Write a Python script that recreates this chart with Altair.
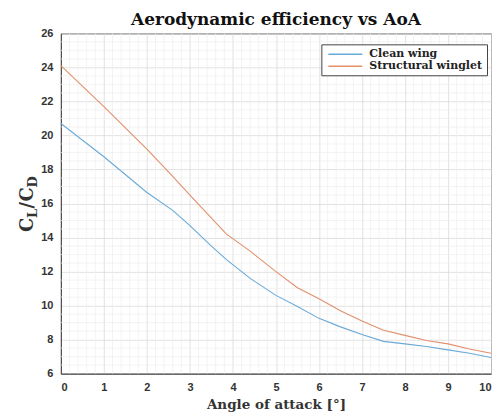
import altair as alt
import pandas as pd

# --- data ---
aoa_clean = [0, 1, 2, 2.6, 3, 3.5, 3.85, 4.4, 5, 5.5, 6, 6.5, 7, 7.5, 8, 8.5, 9, 9.5, 10]
ld_clean = [20.7, 18.75, 16.65, 15.6, 14.7, 13.5, 12.7, 11.6, 10.6, 9.95, 9.25, 8.75, 8.3, 7.9, 7.75, 7.6, 7.4, 7.2, 6.95]
aoa_wing = [0, 1, 2, 2.6, 3, 3.85, 4.4, 5, 5.5, 6, 6.5, 7, 7.5, 8, 8.5, 9, 9.5, 10]
ld_wing = [24.1, 21.7, 19.2, 17.6, 16.5, 14.2, 13.2, 12.0, 11.05, 10.4, 9.7, 9.1, 8.55, 8.25, 7.95, 7.75, 7.45, 7.2]
series = ["Clean wing", "Structural winglet"]
colors = ["#6aaad8", "#e3906b"]

x_ticks = list(range(0, 11))
y_ticks = list(range(6, 27, 2))
x_minor = [round(i * 0.2, 2) for i in range(0, 51) if i % 5 != 0]
y_minor = [6 + i * 0.5 for i in range(0, 41) if i % 4 != 0]

df = pd.DataFrame(
    {"aoa": aoa_clean + aoa_wing,
     "ld": ld_clean + ld_wing,
     "series": [series[0]] * len(aoa_clean) + [series[1]] * len(aoa_wing)}
)

xs = alt.Scale(domain=[0, 10], nice=False, zero=False)
ys = alt.Scale(domain=[6, 26], nice=False, zero=False)
x_axis = alt.Axis(values=x_ticks, title="Angle of attack [°]", format="d", labelOverlap=False)
y_axis = alt.Axis(values=y_ticks, title=None, format="d", labelOverlap=False)

minor_x = alt.Chart(pd.DataFrame({"v": x_minor})).mark_rule(
    color="#ededed", strokeWidth=0.7
).encode(x=alt.X("v:Q", scale=xs, axis=x_axis))
minor_y = alt.Chart(pd.DataFrame({"v": y_minor})).mark_rule(
    color="#ededed", strokeWidth=0.7
).encode(y=alt.Y("v:Q", scale=ys, axis=y_axis))

lines = alt.Chart(df).mark_line(strokeWidth=1.1).encode(
    x=alt.X("aoa:Q", scale=xs, axis=x_axis),
    y=alt.Y("ld:Q", scale=ys, axis=y_axis),
    color=alt.Color("series:N",
                    scale=alt.Scale(domain=series, range=colors),
                    legend=alt.Legend(
                        title=None, orient="none", legendX=261, legendY=11,
                        symbolType="M-3.4,0H3.4", symbolSize=100, symbolStrokeWidth=1.4,
                        symbolOffset=14,
                        labelFont="DejaVu Serif", labelFontSize=11, labelFontWeight="bold",
                        labelColor="#222", rowPadding=1, padding=4,
                        strokeColor="#444", fillColor="white", labelOffset=18)),
)

# y-axis title C_L/C_D built from pieces (rotated)
ypieces = pd.DataFrame({
    "t": ["C", "L", "/", "C", "D"],
    "y": [199, 185, 175.5, 168.5, 154.5],
    "x": [-28, -24, -28, -28, -24],
    "s": [18, 13, 18, 18, 13],
})
ytitle = []
for _, r in ypieces.iterrows():
    ytitle.append(
        alt.Chart(pd.DataFrame({"t": [r["t"]]})).mark_text(
            angle=270, align="left", baseline="alphabetic",
            font="DejaVu Serif", fontSize=float(r["s"]), fontWeight="bold", color="#333"
        ).encode(text="t:N", x=alt.value(float(r["x"])), y=alt.value(float(r["y"])))
    )

chart = alt.layer(minor_x, minor_y, lines, *ytitle).properties(
    width=431, height=341,
    title=alt.TitleParams("Aerodynamic efficiency vs AoA", font="DejaVu Serif",
                          fontSize=17, fontWeight="bold", color="#111", offset=2, dy=4),
    autosize=alt.AutoSizeParams(type="none"),
    padding={"left": 53, "top": 25, "right": 4, "bottom": 40},
).configure_axis(
    gridColor="#dadada", gridWidth=0.8, domainColor="#444",
    labelFont="Liberation Sans", labelFontSize=11, labelFontWeight="bold",
    labelColor="#333", ticks=False, labelPadding=8,
    titleFont="DejaVu Serif", titleFontSize=13.5, titleFontWeight="bold",
    titleColor="#333", titlePadding=5,
).configure_view(stroke="#444", strokeWidth=1)

chart.save("out.html", embed_options={"renderer": "svg", "actions": False})
